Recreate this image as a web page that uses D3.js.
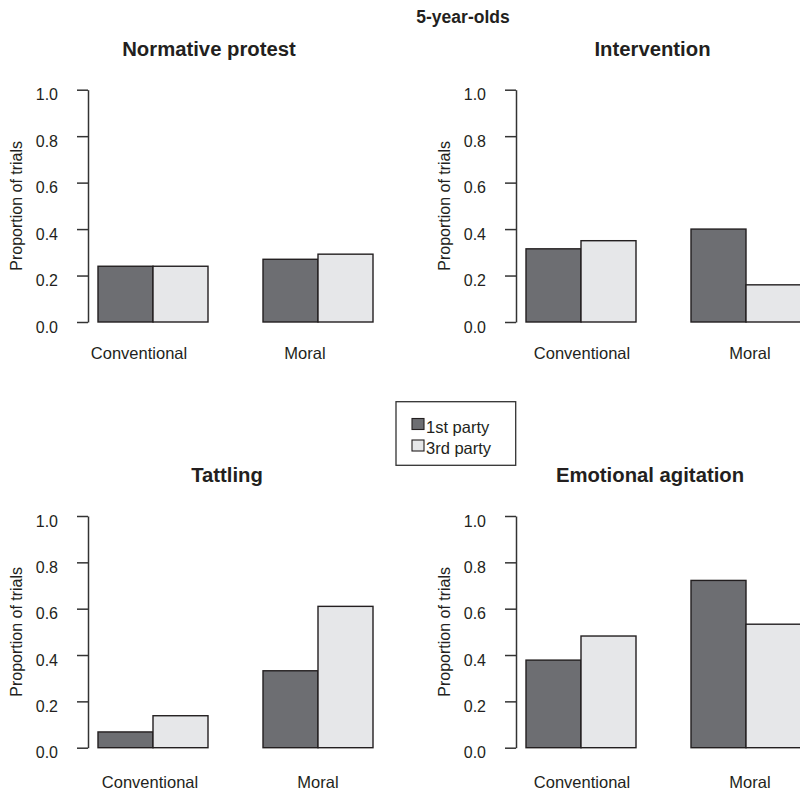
<!DOCTYPE html>
<html>
<head>
<meta charset="utf-8">
<script src="https://cdn.jsdelivr.net/npm/d3@7"></script>
<style>
  body { margin: 0; background: #fff; }
  text { font-family: "Liberation Sans", Arial, sans-serif; fill: #231f20; }
</style>
</head>
<body>
<svg id="chart" width="800" height="789"></svg>
<script>
(function() {

  // data
  var figureTitle = "5-year-olds";
  var panelTitles = ["Normative protest", "Intervention", "Tattling", "Emotional agitation"];
  var categories = ["Conventional", "Moral"];
  var parties = ["1st party", "3rd party"];
  var firstParty = [[0.24, 0.27], [0.315, 0.40], [0.068, 0.332], [0.378, 0.722]];
  var thirdParty = [[0.24, 0.292], [0.35, 0.16], [0.138, 0.61], [0.482, 0.533]];
  var yTicks = [0, 0.2, 0.4, 0.6, 0.8, 1.0];
  var yLabel = "Proportion of trials";

  var COLORS = ["#6d6e72", "#e6e7e9"];
  var STROKE = "#231f20";

  // panel layout: left edge of plot region, y of 0 and 1
  var panels = [
    {x0 : 87,  yZero : 322,   yOne : 89.7, titleX : 209,   titleY : 56,  labelY : 359,   labelShift : [-14, -13]},
    {x0 : 515, yZero : 322,   yOne : 89.7, titleX : 652.5, titleY : 56,  labelY : 359,   labelShift : [1, 4]},
    {x0 : 87,  yZero : 747.7, yOne : 516,  titleX : 227,   titleY : 482, labelY : 787.5, labelShift : [-3, 0]},
    {x0 : 515, yZero : 747.7, yOne : 516,  titleX : 650,   titleY : 482, labelY : 787.5, labelShift : [1, 4]}
  ];

  var svg = d3.select("#chart");

  svg.append("text")
    .attr("x", 463).attr("y", 23)
    .attr("text-anchor", "middle")
    .attr("font-weight", "bold")
    .attr("font-size", 17.5)
    .text(figureTitle);

  panels.forEach(function(p, i) {
    var g = svg.append("g");

    // R barplot style: bars at units 1..6 with one-unit gap between groups
    var x = d3.scaleLinear().domain([0.8, 6.2]).range([p.x0, p.x0 + 297]);
    var y = d3.scaleLinear().domain([0, 1]).range([p.yZero, p.yOne]);

    var bars = [];
    categories.forEach(function(c, ci) {
      [firstParty[i][ci], thirdParty[i][ci]].forEach(function(v, pi) {
        bars.push({left : 1 + ci * 3 + pi, value : v, party : pi});
      });
    });

    g.selectAll("rect.bar")
      .data(bars)
      .enter().append("rect")
      .attr("class", "bar")
      .attr("x", d => x(d.left))
      .attr("y", d => y(d.value))
      .attr("width", d => x(d.left + 1) - x(d.left))
      .attr("height", d => y(0) - y(d.value))
      .attr("fill", d => COLORS[d.party])
      .attr("stroke", STROKE)
      .attr("stroke-width", 1.4);

    // y axis
    var axis = g.append("g")
      .attr("transform", "translate(" + (p.x0 + 1) + ",0)")
      .call(d3.axisLeft(y).tickValues(yTicks).tickFormat(d3.format(".1f")).tickSizeOuter(0).tickSizeInner(11).tickPadding(19));
    axis.select(".domain").attr("stroke", "#333").attr("stroke-width", 1.5);
    axis.selectAll(".tick line").attr("stroke", "#333").attr("stroke-width", 1.5);
    axis.selectAll(".tick text")
      .attr("font-size", 16)
      .attr("fill", "#231f20")
      .attr("dy", "0.95em")
      .attr("y", -5);

    // y label
    g.append("text")
      .attr("transform", "translate(" + (p.x0 - 65) + "," + ((p.yZero + p.yOne) / 2) + ") rotate(-90)")
      .attr("text-anchor", "middle")
      .attr("font-size", 16)
      .text(yLabel);

    // category labels
    g.selectAll("text.cat")
      .data(categories)
      .enter().append("text")
      .attr("class", "cat")
      .attr("x", (d, ci) => x(2 + ci * 3) + p.labelShift[ci])
      .attr("y", p.labelY)
      .attr("text-anchor", "middle")
      .attr("font-size", 16.5)
      .text(d => d);

    // title
    g.append("text")
      .attr("x", p.titleX).attr("y", p.titleY)
      .attr("text-anchor", "middle")
      .attr("font-weight", "bold")
      .attr("font-size", 20.3)
      .text(panelTitles[i]);
  });

  // legend
  var legend = svg.append("g");
  legend.append("rect")
    .attr("x", 396).attr("y", 401.7)
    .attr("width", 119.7).attr("height", 63.6)
    .attr("fill", "none").attr("stroke", "#333").attr("stroke-width", 1.3);

  var items = legend.selectAll("g.item")
    .data(parties)
    .enter().append("g")
    .attr("class", "item")
    .attr("transform", (d, i) => "translate(412," + (418.5 + i * 21.5) + ")");

  items.append("rect")
    .attr("width", 12).attr("height", 11)
    .attr("fill", (d, i) => COLORS[i])
    .attr("stroke", STROKE).attr("stroke-width", 1.1);

  items.append("text")
    .attr("x", 14).attr("y", 14)
    .attr("font-size", 16.5)
    .text(d => d);

})();
</script>
</body>
</html>
